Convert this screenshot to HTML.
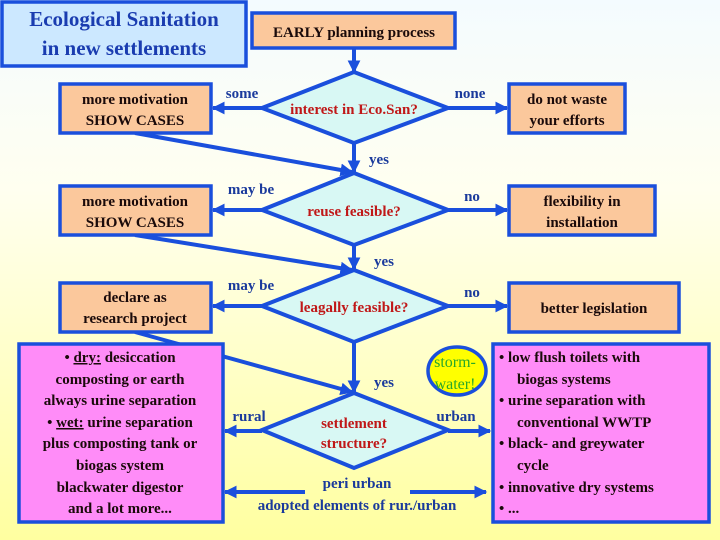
<!DOCTYPE html>
<html><head><meta charset="utf-8"><style>
html,body{margin:0;padding:0;}
body{width:720px;height:540px;overflow:hidden;}
svg{display:block;font-family:"Liberation Serif",serif;font-weight:bold;}
</style></head><body>
<svg width="720" height="540" viewBox="0 0 720 540" xmlns="http://www.w3.org/2000/svg">
<defs>
<linearGradient id="bg" x1="0" y1="0" x2="0" y2="1">
<stop offset="0" stop-color="#f4fbff"/><stop offset="0.35" stop-color="#fffff0"/><stop offset="1" stop-color="#ffffa0"/>
</linearGradient>
<marker id="ah" viewBox="0 0 10 10" refX="9" refY="5" markerWidth="3.2" markerHeight="3.2" orient="auto">
<path d="M0,0 L10,5 L0,10 z" fill="#1a4fdc"/></marker>
</defs>
<rect width="720" height="540" fill="url(#bg)"/>
<g stroke="#1a4fdc" stroke-width="4" fill="none">
<!-- verticals -->
<line x1="354" y1="48" x2="354" y2="72" marker-end="url(#ah)"/>
<line x1="354" y1="143" x2="354" y2="172" marker-end="url(#ah)"/>
<line x1="354" y1="245" x2="354" y2="269" marker-end="url(#ah)"/>
<line x1="354" y1="342" x2="354" y2="392" marker-end="url(#ah)"/>
<!-- diagonals -->
<line x1="135" y1="133" x2="352" y2="172" marker-end="url(#ah)"/>
<line x1="135" y1="235" x2="352" y2="270" marker-end="url(#ah)"/>
<line x1="135" y1="332" x2="352" y2="392" marker-end="url(#ah)"/>
<!-- left arrows -->
<line x1="262" y1="108" x2="213" y2="108" marker-end="url(#ah)"/>
<line x1="262" y1="210" x2="213" y2="210" marker-end="url(#ah)"/>
<line x1="262" y1="306" x2="213" y2="306" marker-end="url(#ah)"/>
<line x1="262" y1="431" x2="225" y2="431" marker-end="url(#ah)"/>
<line x1="305" y1="492" x2="225" y2="492" marker-end="url(#ah)"/>
<!-- right arrows -->
<line x1="448" y1="108" x2="507" y2="108" marker-end="url(#ah)"/>
<line x1="448" y1="210" x2="507" y2="210" marker-end="url(#ah)"/>
<line x1="448" y1="306" x2="507" y2="306" marker-end="url(#ah)"/>
<line x1="448" y1="431" x2="490" y2="431" marker-end="url(#ah)"/>
<line x1="410" y1="492" x2="486" y2="492" marker-end="url(#ah)"/>
</g>
<g stroke="#1a4fdc" stroke-width="4" fill="#d8f8f4">
<polygon points="354,72 448,108 354,143 262,108"/>
<polygon points="354,173 448,210 354,245 262,210"/>
<polygon points="354,270 448,306 354,342 262,306"/>
<polygon points="354,393 448,430 354,468 262,430"/>
</g>
<g stroke="#1a4fdc" stroke-width="3.5">
<rect x="2" y="2" width="244" height="64" fill="#cce8ff"/>
<rect x="252" y="13" width="203" height="35" fill="#fbc89c"/>
<rect x="60" y="84" width="151" height="49" fill="#fbc89c"/>
<rect x="60" y="186" width="151" height="49" fill="#fbc89c"/>
<rect x="60" y="283" width="151" height="49" fill="#fbc89c"/>
<rect x="509" y="84" width="116" height="49" fill="#fbc89c"/>
<rect x="509" y="186" width="146" height="49" fill="#fbc89c"/>
<rect x="509" y="283" width="170" height="49" fill="#fbc89c"/>
<rect x="19" y="344" width="204" height="178" fill="#ff8cf8"/>
<rect x="493" y="344" width="216" height="178" fill="#ff8cf8"/>
<ellipse cx="457" cy="371" rx="29" ry="24" fill="#ffff00"/>
</g>
<g text-anchor="middle">
<text x="124" y="26" font-size="21" fill="#1a3cb0">Ecological Sanitation</text>
<text x="124" y="55" font-size="21" fill="#1a3cb0">in new settlements</text>
<text x="354" y="37" font-size="15" fill="#1a0a0a">EARLY planning process</text>
<g font-size="15" fill="#1a0a0a">
<text x="135" y="104">more motivation</text><text x="135" y="125">SHOW CASES</text>
<text x="135" y="206">more motivation</text><text x="135" y="227">SHOW CASES</text>
<text x="135" y="302">declare as</text><text x="135" y="323">research project</text>
<text x="567" y="104">do not waste</text><text x="567" y="125">your efforts</text>
<text x="582" y="206">flexibility in</text><text x="582" y="227">installation</text>
<text x="594" y="313">better legislation</text>
<text x="120" y="362">• <tspan text-decoration="underline">dry:</tspan> desiccation</text>
<text x="120" y="384">composting or earth</text>
<text x="120" y="405">always urine separation</text>
<text x="120" y="427">• <tspan text-decoration="underline">wet:</tspan> urine separation</text>
<text x="120" y="448">plus composting tank or</text>
<text x="120" y="470">biogas system</text>
<text x="120" y="492">blackwater digestor</text>
<text x="120" y="513">and a lot more...</text>
</g>
<g font-size="15" fill="#c01818">
<text x="354" y="114">interest in Eco.San?</text>
<text x="354" y="216">reuse feasible?</text>
<text x="354" y="312">leagally feasible?</text>
<text x="354" y="428">settlement</text>
<text x="354" y="448">structure?</text>
</g>
<g font-size="15" fill="#1a3a9c" font-weight="normal" style="font-weight:bold">
<text x="242" y="98">some</text><text x="470" y="98">none</text>
<text x="251" y="194">may be</text><text x="472" y="201">no</text>
<text x="251" y="290">may be</text><text x="472" y="297">no</text>
<text x="379" y="164">yes</text><text x="384" y="266">yes</text><text x="384" y="387">yes</text>
<text x="249" y="421">rural</text><text x="456" y="421">urban</text>
<text x="357" y="488">peri urban</text>
<text x="357" y="510">adopted elements of rur./urban</text>
</g>
<text x="455" y="367" font-size="16" fill="#2aa82a" font-weight="normal">storm-</text>
<text x="455" y="389" font-size="16" fill="#2aa82a" font-weight="normal">water!</text>
</g>
<g font-size="15" fill="#1a0a0a">
<text x="499" y="362">• low flush toilets with</text>
<text x="517" y="384">biogas systems</text>
<text x="499" y="405">• urine separation with</text>
<text x="517" y="427">conventional WWTP</text>
<text x="499" y="448">• black- and greywater</text>
<text x="517" y="470">cycle</text>
<text x="499" y="492">• innovative dry systems</text>
<text x="499" y="513">• ...</text>
</g>
</svg>
</body></html>
